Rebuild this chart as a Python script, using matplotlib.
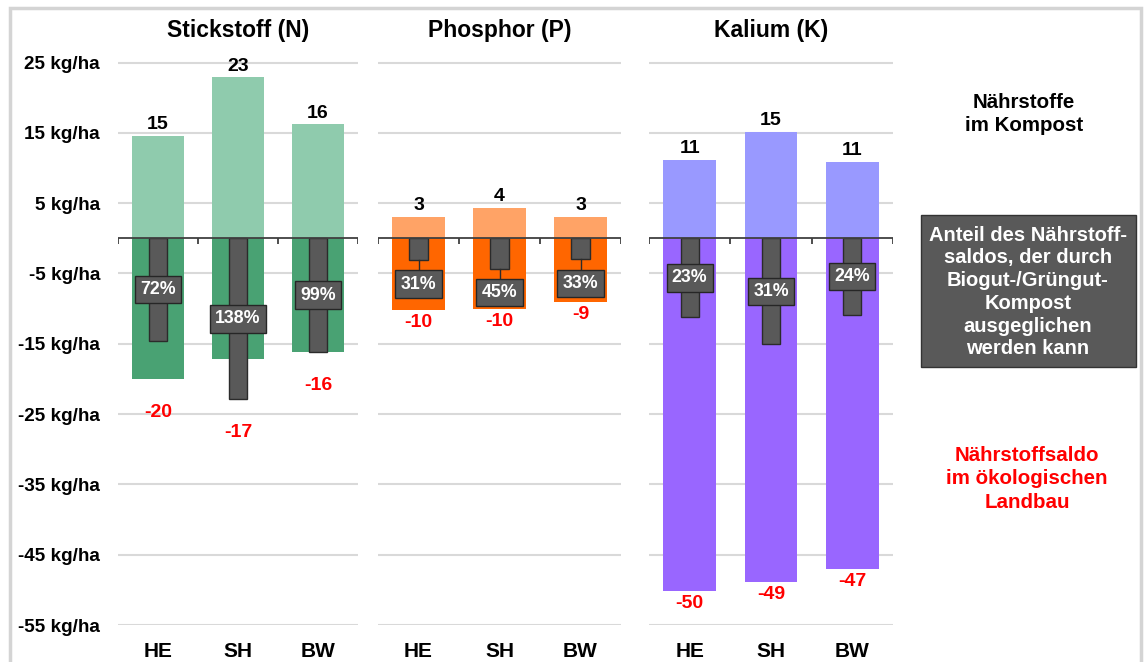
import matplotlib.pyplot as plt
from matplotlib.patches import Rectangle

plt.rcParams['font.family'] = ['Liberation Sans', 'DejaVu Sans']
plt.rcParams['font.weight'] = 'bold'

# data (kg/ha)
regions = ["HE", "SH", "BW"]
nutrients = ["Stickstoff (N)", "Phosphor (P)", "Kalium (K)"]
compost_N = [14.6, 22.9, 16.2]
compost_P = [3.1, 4.3, 3.0]
compost_K = [11.2, 15.1, 10.9]
saldo_N = [-20.0, -17.1, -16.1]
saldo_P = [-10.2, -10.1, -9.1]
saldo_K = [-50.1, -48.9, -47.1]
share_N = ["72%", "138%", "99%"]
share_P = ["31%", "45%", "33%"]
share_K = ["23%", "31%", "24%"]
yticks = [25, 15, 5, -5, -15, -25, -35, -45, -55]

W, H = 1148, 662
fig = plt.figure(figsize=(W / 100, H / 100), dpi=100)

# panel x-extent in pixels, colours (light, dark), red label offset (pt)
panels = [
    (118, 358, "#8FCBAD", "#49A273", compost_N, saldo_N, share_N, 24),
    (378, 621, "#FFA366", "#FF6600", compost_P, saldo_P, share_P, 9),
    (649, 893, "#9999FF", "#9966FF", compost_K, saldo_K, share_K, 9),
]

y_top, y_bot = 41.5, 625
grey = "#595959"

for i, (x0, x1, light, dark, comp, saldo, share, off) in enumerate(panels):
    ax = fig.add_axes([x0 / W, (H - y_bot) / H, (x1 - x0) / W, (y_bot - y_top) / H])
    ax.set_xlim(-0.5, 2.5)
    ax.set_ylim(-55, 28)
    for s in ax.spines.values():
        s.set_visible(False)
    ax.set_yticks(yticks)
    ax.yaxis.grid(True, color="#D9D9D9", lw=1.5)
    ax.set_axisbelow(True)
    ax.tick_params(axis='y', length=0, pad=13, labelsize=13.6)
    if i == 0:
        ax.set_yticklabels([f"{v} kg/ha" for v in yticks], fontweight='bold')
    else:
        ax.set_yticklabels([])
    ax.set_xticks(range(3))
    ax.set_xticklabels(regions, fontsize=15, fontweight='bold')
    ax.tick_params(axis='x', length=0, pad=12)

    x = list(range(3))
    ax.bar(x, saldo, width=0.65, color=dark, zorder=2)
    ax.bar(x, comp, width=0.65, color=light, zorder=2)
    ax.bar(x, [-v for v in comp], width=0.225, color=grey, edgecolor="#2B2B2B",
           lw=1, zorder=3)

    # zero axis with boundary ticks
    ax.axhline(0, color="#404040", lw=1.3, zorder=4)
    ax.vlines([-0.5, 0.5, 1.5, 2.5], -0.8, 0, color="#404040", lw=1.3, zorder=4)

    for xi, c, s, p in zip(x, comp, saldo, share):
        ax.annotate(f"{round(c)}", (xi, c), xytext=(0, 2), textcoords='offset points',
                    ha='center', va='bottom', fontsize=14, fontweight='bold', zorder=5)
        low = min(s, -c)
        ax.annotate(f"{round(s)}", (xi, low), xytext=(0, -off), textcoords='offset points',
                    ha='center', va='center', fontsize=14, fontweight='bold',
                    color="#FF0000", zorder=5)
        if c < 8:
            ly = -(c + 3.4)
            ax.plot([xi, xi], [-c, ly], color="#2B2B2B", lw=1, zorder=3)
        else:
            ly = -c / 2
        ax.text(xi, ly, p, ha='center', va='center', color='white', fontsize=12.8,
                fontweight='bold', zorder=6,
                bbox=dict(boxstyle='square,pad=0.3', fc=grey, ec="#262626", lw=1))

    fig.text((x0 + x1) / 2 / W, 1 - 30 / H, nutrients[i], ha='center', va='center',
             fontsize=16.5, fontweight='bold')

# legend texts on the right
fig.text(1024 / W, 1 - 114 / H, "Nährstoffe\nim Kompost", ha='center', va='center',
         fontsize=14.8, fontweight='bold', linespacing=1.3)
fig.patches.append(Rectangle((921 / W, 1 - 367 / H), 215 / W, 152 / H,
                             transform=fig.transFigure, fc=grey, ec="#333333", lw=1))
fig.text(1028 / W, 1 - 292 / H,
         "Anteil des Nährstoff-\nsaldos, der durch\nBiogut-/Grüngut-\nKompost\nausgeglichen\nwerden kann",
         ha='center', va='center', color='white', fontsize=14.5, fontweight='bold',
         linespacing=1.25)
fig.text(1027 / W, 1 - 479 / H, "Nährstoffsaldo\nim ökologischen\nLandbau",
         ha='center', va='center', color="#FF0000", fontsize=14.8, fontweight='bold',
         linespacing=1.3)

# light frame around the picture
fig.patches.append(Rectangle((10 / W, -0.1), 1131 / W, 1.1 - 8 / H,
                             transform=fig.transFigure, fill=False, ec="#D4D4D4", lw=2.5))

fig.savefig("out.png", dpi=100)
